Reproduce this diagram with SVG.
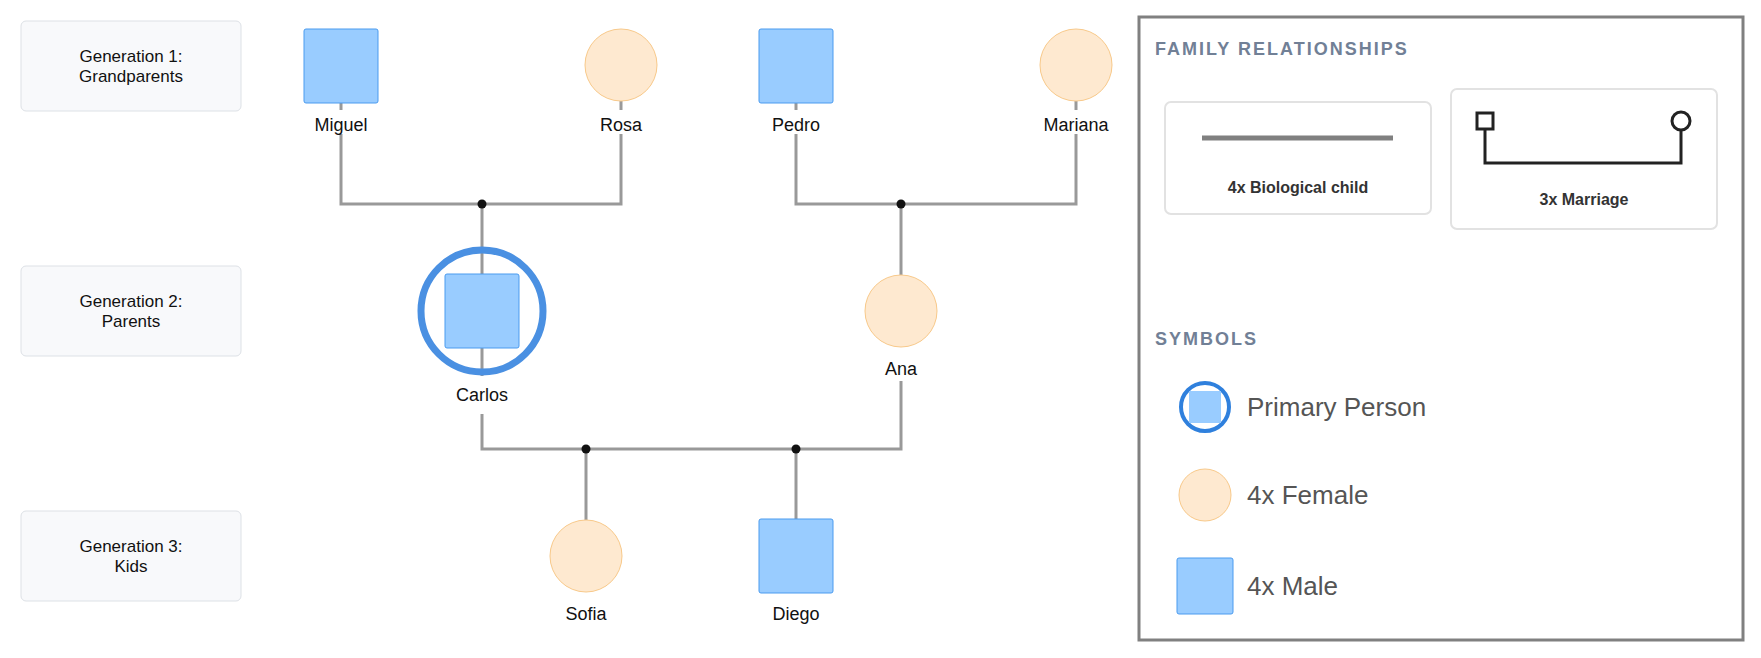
<svg xmlns="http://www.w3.org/2000/svg" width="1761" height="658" viewBox="0 0 1761 658">
<style>
.gen{fill:#f8f9fb;stroke:#dde1e6;stroke-width:1}
.gt{font-family:"Liberation Sans",Arial,sans-serif;font-size:17px;fill:#111;text-anchor:middle}
.nl{font-family:"Liberation Sans",Arial,sans-serif;font-size:18px;fill:#111;text-anchor:middle}
.m{fill:#99ccff;stroke:#4a9bef;stroke-width:1}
.f{fill:#fee9d0;stroke:#f8c98a;stroke-width:1}
.ln{stroke:#999;stroke-width:3;fill:none}
.dot{fill:#111}
.hd{font-family:"Liberation Sans",Arial,sans-serif;font-size:18px;font-weight:bold;fill:#718096;letter-spacing:2px}
.lb{fill:#fff;stroke:#e2e2e2;stroke-width:2}
.lt{font-family:"Liberation Sans",Arial,sans-serif;font-size:16px;font-weight:bold;fill:#333;text-anchor:middle}
.st{font-family:"Liberation Sans",Arial,sans-serif;font-size:26px;fill:#555}
</style>
<rect width="1761" height="658" fill="#fff"/>
<g id="gen1"><rect class="gen" x="21" y="21" width="220" height="90" rx="5"/><text class="gt" x="131" y="62">Generation 1:</text><text class="gt" x="131" y="82">Grandparents</text></g>
<g id="gen2"><rect class="gen" x="21" y="266" width="220" height="90" rx="5"/><text class="gt" x="131" y="307">Generation 2:</text><text class="gt" x="131" y="327">Parents</text></g>
<g id="gen3"><rect class="gen" x="21" y="511" width="220" height="90" rx="5"/><text class="gt" x="131" y="552">Generation 3:</text><text class="gt" x="131" y="572">Kids</text></g>
<g id="connectors">
<path class="ln" d="M341 103V110M341 134V204H621V134M621 101V110M796 103V110M796 134V204H1076V134M1076 101V110"/>
<path class="ln" d="M482 204V274M482 348V376M482 414V449H901V381M901 204V275M586 449V520M796 449V519"/>
<circle class="dot" cx="482" cy="204" r="4.5"/><circle class="dot" cx="901" cy="204" r="4.5"/>
<circle class="dot" cx="586" cy="449" r="4.5"/><circle class="dot" cx="796" cy="449" r="4.5"/>
</g>
<g id="miguel"><rect class="m" x="304" y="29" width="74" height="74" rx="2"/><text class="nl" x="341" y="131">Miguel</text></g>
<g id="rosa"><circle class="f" cx="621" cy="65" r="36"/><text class="nl" x="621" y="131">Rosa</text></g>
<g id="pedro"><rect class="m" x="759" y="29" width="74" height="74" rx="2"/><text class="nl" x="796" y="131">Pedro</text></g>
<g id="mariana"><circle class="f" cx="1076" cy="65" r="36"/><text class="nl" x="1076" y="131">Mariana</text></g>
<g id="carlos"><circle cx="482" cy="311" r="61" fill="none" stroke="#4a90e2" stroke-width="7"/><rect class="m" x="445" y="274" width="74" height="74" rx="2"/><text class="nl" x="482" y="401">Carlos</text></g>
<g id="ana"><circle class="f" cx="901" cy="311" r="36"/><text class="nl" x="901" y="375">Ana</text></g>
<g id="sofia"><circle class="f" cx="586" cy="556" r="36"/><text class="nl" x="586" y="620">Sofia</text></g>
<g id="diego"><rect class="m" x="759" y="519" width="74" height="74" rx="2"/><text class="nl" x="796" y="620">Diego</text></g>
<g id="legend">
<rect x="1139" y="17" width="604" height="623" fill="#fff" stroke="#808080" stroke-width="3"/>
<text class="hd" x="1155" y="55">FAMILY RELATIONSHIPS</text>
<rect class="lb" x="1165" y="102" width="266" height="112" rx="6"/>
<line x1="1202" y1="138" x2="1393" y2="138" stroke="#808080" stroke-width="5"/>
<text class="lt" x="1298" y="193">4x Biological child</text>
<rect class="lb" x="1451" y="89" width="266" height="140" rx="6"/>
<path d="M1485 129V163H1681V129" fill="none" stroke="#222" stroke-width="3"/>
<rect x="1477" y="113" width="16" height="16" fill="#fff" stroke="#222" stroke-width="3"/>
<circle cx="1681" cy="121" r="9" fill="#fff" stroke="#222" stroke-width="3"/>
<text class="lt" x="1584" y="205">3x Marriage</text>
<text class="hd" x="1155" y="345">SYMBOLS</text>
<circle cx="1205" cy="407" r="24" fill="#fff" stroke="#2f80dd" stroke-width="4"/>
<rect x="1189" y="391" width="32" height="32" fill="#99ccff"/>
<text class="st" x="1247" y="416">Primary Person</text>
<circle class="f" cx="1205" cy="495" r="26"/>
<text class="st" x="1247" y="504">4x Female</text>
<rect class="m" x="1177" y="558" width="56" height="56" rx="2"/>
<text class="st" x="1247" y="595">4x Male</text>
</g>
</svg>
